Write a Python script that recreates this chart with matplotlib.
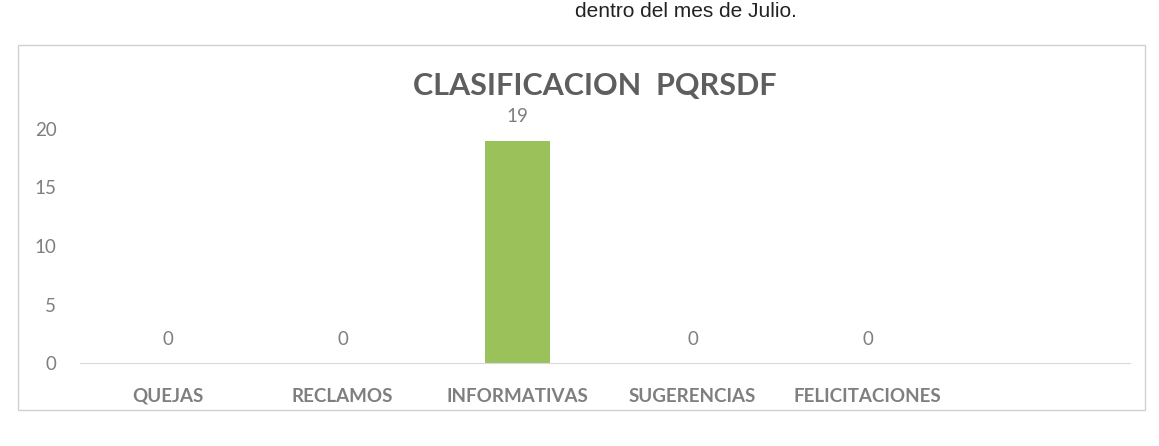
import matplotlib.pyplot as plt
from matplotlib.patches import Rectangle

categorias = ['QUEJAS', 'RECLAMOS', 'INFORMATIVAS', 'SUGERENCIAS', 'FELICITACIONES']
valores = [0, 0, 19, 0, 0]
ticks_y = [0, 5, 10, 15, 20]

gris = '#7f7f7f'
verde = '#9bc25a'

plt.rcParams['font.family'] = ['Lato', 'DejaVu Sans']

fig = plt.figure(figsize=(11.59, 4.46), dpi=100)
W, H = 1159, 446

# borde del grafico
fig.patches.append(Rectangle((18 / W, 1 - 410 / H), (1145 - 18) / W, (410 - 45) / H,
                             transform=fig.transFigure, fill=False,
                             edgecolor='#d0d0d0', linewidth=1))

# linea de texto del documento (arriba)
fig.text(575 / W, 1 - 2 / H, 'dentro del mes de Julio.', fontsize=15,
         family='Liberation Sans', color='#222222', ha='left', va='top')

ax = fig.add_axes([80 / W, 1 - 363 / H, (1130 - 80) / W, (363 - 129) / H])
x = range(len(categorias))
barras = ax.bar(x, valores, width=0.37, color=verde)
ax.bar_label(barras, padding=11, fontsize=13.5, color=gris)

ax.set_xlim(-0.5, 5.5)
ax.set_ylim(0, 20)
ax.set_yticks(ticks_y)
ax.set_xticks(list(x))
ax.set_xticklabels(categorias, fontsize=13.5, fontweight='bold', color=gris)
ax.tick_params(axis='x', length=0, pad=18)
ax.tick_params(axis='y', length=0, pad=17, labelsize=13.5, labelcolor=gris)
for s in ['top', 'right', 'left']:
    ax.spines[s].set_visible(False)
ax.spines['bottom'].set_color('#d9d9d9')

fig.text(595 / W, 1 - 86 / H, 'CLASIFICACION  PQRSDF', fontsize=22,
         fontweight='bold', color='#5e5e5e', ha='center', va='center')

fig.savefig('out.png', dpi=100)
